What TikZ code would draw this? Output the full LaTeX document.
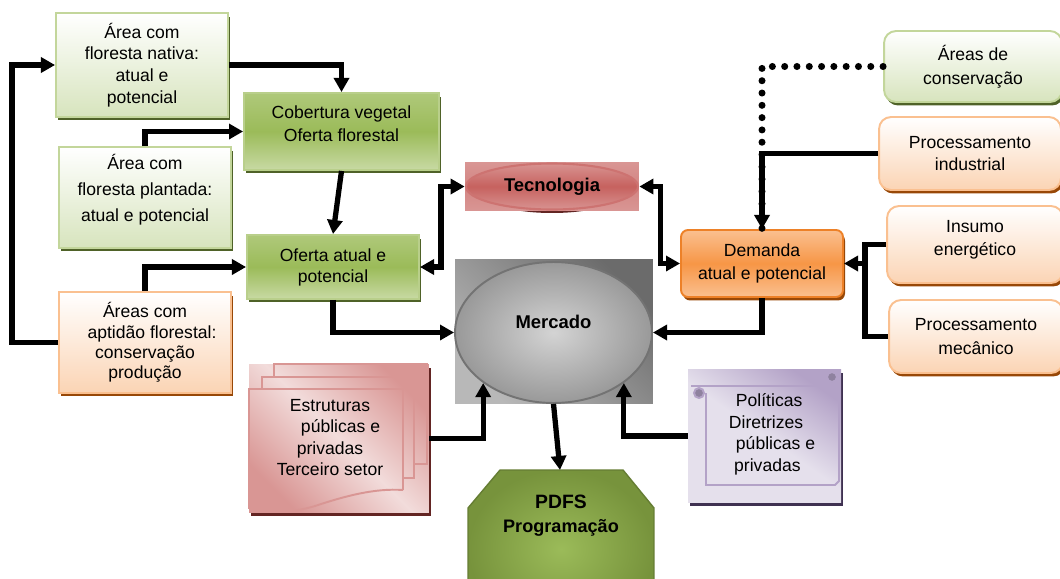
\documentclass[tikz,border=0pt]{standalone}
\usepackage{fontspec}
\setmainfont{Liberation Sans}
\usepackage{xcolor}
\usetikzlibrary{arrows.meta, shapes.geometric, shadows, calc}

\definecolor{verdeClaro}{HTML}{D7E4BD}
\definecolor{verdeBorda}{HTML}{C3D69B}
\definecolor{verdeMedio}{HTML}{9BBB59}
\definecolor{verdeEscuro}{HTML}{4F6228}
\definecolor{oliva}{HTML}{77933C}
\definecolor{laranjaClaro}{HTML}{FBD4B4}
\definecolor{laranjaBorda}{HTML}{FAC090}
\definecolor{laranja}{HTML}{F79646}
\definecolor{laranjaEscuro}{HTML}{E46C0A}
\definecolor{marrom}{HTML}{984807}
\definecolor{rosaClaro}{HTML}{F2DCDB}
\definecolor{rosaMedio}{HTML}{D99694}
\definecolor{vermelho}{HTML}{C0504D}
\definecolor{vermelhoEscuro}{HTML}{632523}
\definecolor{lilasClaro}{HTML}{E5E0EC}
\definecolor{lilasMedio}{HTML}{B3A2C7}
\definecolor{lilasEscuro}{HTML}{3F3151}

\tikzset{
    caixa/.style={draw, line width=1.1pt, align=center, inner sep=2pt,
        font={\fontsize{10}{12.3}\selectfont}},
    sombra/.style={drop shadow={shadow xshift=0.04cm, shadow yshift=-0.07cm, opacity=1, fill=#1}},
    verdeclaro/.style={caixa, draw=verdeBorda, top color=white, bottom color=verdeClaro, sombra=verdeEscuro},
    verde/.style={caixa, draw=verdeMedio!70!white, top color=verdeMedio!80!white, bottom color=verdeMedio!55!white,
        middle color=verdeMedio, sombra=verdeEscuro},
    laranjaclaro/.style={caixa, draw=laranjaBorda, top color=white, bottom color=laranjaClaro, sombra=marrom},
    laranjaforte/.style={caixa, draw=laranjaEscuro!50!laranja, top color=laranjaBorda, bottom color=laranjaBorda,
        middle color=laranja, rounded corners=0.14cm, sombra=marrom},
    redonda/.style={rounded corners=0.24cm},
    negrito/.style={font={\bfseries\fontsize{10.5}{12}\selectfont}},
    ligacao/.style={line width=3pt, -{Triangle[length=8pt, width=8.5pt]}},
    dupla/.style={line width=3pt, {Triangle[length=8pt, width=8.5pt]}-{Triangle[length=8pt, width=8.5pt]}},
    linha/.style={line width=3pt},
    pontos/.style={line width=4pt, line cap=round, dash pattern=on 0pt off 7pt},
    pagina/.style={draw=rosaMedio, line width=1.1pt},
    rolo/.style={draw=lilasMedio, line width=1.1pt}
}

\begin{document}
\begin{tikzpicture}[x=0.02cm, y=-0.02cm]
    \useasboundingbox (0,0) rectangle (1060,578);
    \clip (0,0) rectangle (1060,578);

    % lado esquerdo: areas e oferta
    \node[verdeclaro, minimum width=3.44cm, minimum height=2.08cm] (nativa) at (142,65)
        {Área com\\floresta nativa:\\atual e\\potencial};
    \node[verde, minimum width=3.9cm, minimum height=1.54cm, text depth=9pt,
        font={\fontsize{10}{13.6}\selectfont}] (cobertura) at (341.5,131.5)
        {Cobertura vegetal\\Oferta florestal};
    \node[verdeclaro, minimum width=3.44cm, minimum height=2.02cm, text depth=11pt,
        font={\fontsize{10}{15}\selectfont}] (plantada) at (145,197.5)
        {Área com\\floresta plantada:\\atual e potencial};
    \node[verde, minimum width=3.44cm, minimum height=1.28cm,
        font={\fontsize{10}{12}\selectfont}] (oferta) at (333,267)
        {Oferta atual e\\potencial};
    \node[laranjaclaro, minimum width=3.44cm, minimum height=2.02cm,
        font={\fontsize{10}{11.5}\selectfont}] (aptidao) at (145,342.5)
        {Áreas com\\\hspace{8pt}aptidão florestal:\\conservação\\produção};

    % lado direito: demanda
    \node[verdeclaro, redonda, minimum width=3.56cm, minimum height=1.42cm,
        font={\fontsize{10}{13.6}\selectfont}] (conservacao) at (973,66.5)
        {Áreas de\\conservação};
    \node[laranjaclaro, redonda, minimum width=3.64cm, minimum height=1.46cm,
        font={\fontsize{10}{13}\selectfont}] (industrial) at (970,153.5)
        {Processamento\\industrial};
    \node[laranjaclaro, redonda, minimum width=3.52cm, minimum height=1.54cm, text depth=7.5pt,
        font={\fontsize{10}{13}\selectfont}] (insumo) at (975,244.5)
        {Insumo\\energético};
    \node[laranjaclaro, redonda, minimum width=3.48cm, minimum height=1.46cm,
        font={\fontsize{10}{13.6}\selectfont}] (mecanico) at (976,336.5)
        {Processamento\\mecânico};
    \node[laranjaforte, minimum width=3.24cm, minimum height=1.34cm,
        font={\fontsize{10}{13}\selectfont}] (demanda) at (762,263.5)
        {Demanda\\atual e potencial};

    % Tecnologia
    \fill[vermelhoEscuro] (552,190) ellipse [x radius=1.5cm, y radius=0.46cm];
    \node[negrito, minimum width=3.48cm, minimum height=0.98cm,
        top color=rosaMedio, bottom color=rosaMedio, middle color=rosaMedio!75!vermelho,
        path picture={\path[draw=vermelho!80!white, line width=1.2pt, top color=rosaMedio,
            bottom color=rosaMedio, middle color=vermelho!90!white]
            (path picture bounding box.center) ellipse [x radius=1.72cm, y radius=0.46cm];}]
        (tecnologia) at (552,186.5) {Tecnologia};

    % Mercado
    \node[minimum width=3.96cm, minimum height=2.9cm, top color=black!58, bottom color=black!28,
        shading angle=-45] (quadro) at (554,331.5) {};
    \node[ellipse, draw=black!55, line width=1.1pt, inner color=black!17, outer color=black!40,
        minimum width=3.94cm, minimum height=2.82cm, text depth=12pt, negrito] (mercado) at (553.5,332.5)
        {Mercado};

    % Estruturas (varios documentos)
    \node[minimum width=3.6cm, minimum height=2.98cm, top color=rosaMedio, bottom color=rosaMedio,
        middle color=rosaClaro, shading angle=-45, sombra=vermelhoEscuro] (estruturas) at (339,438.5) {};
    \draw[pagina] (274,377) -- (274,364) -- (427,364) -- (427,464) -- (414,464);
    \draw[pagina] (262,389) -- (262,377) -- (414,377) -- (414,478) -- (403,478);
    \draw[pagina] (403,490) -- (403,389) -- (249,389) -- (249,508)
        .. controls (275,514) and (295,512) .. (315,506)
        .. controls (345,496) and (375,488) .. (403,490);
    \node[align=center, font={\fontsize{10}{12.3}\selectfont}] (estrtexto) at (330,437.5)
        {Estruturas\\\hspace{12pt}públicas e\\privadas\\Terceiro setor};

    % Politicas (rolo)
    \node[minimum width=3.06cm, minimum height=2.68cm, top color=lilasMedio, bottom color=lilasClaro,
        middle color=lilasClaro, shading angle=-35, sombra=lilasEscuro] (politicas) at (764.5,436) {};
    \draw[rolo] (691,386) -- (836,386);
    \draw[rolo] (839,380) -- (839,481) -- (835,485) -- (706,485) -- (706,393);
    \draw[rolo, fill=lilasMedio!80!black] (832,377) circle [radius=0.1cm];
    \draw[rolo, fill=lilasMedio!80!black] (699,393) circle [radius=0.1cm];
    \node[align=left, font={\fontsize{10}{12.3}\selectfont}] (poltexto) at (772,434.5)
        {\hspace{4pt}Políticas\\Diretrizes\\\hspace{4pt}públicas e\\\hspace{3pt}privadas};

    % PDFS
    \path[draw=oliva!85!black, line width=0.8pt, inner color=verdeMedio, outer color=oliva]
        (500,470) -- (623,470) -- (654,508) -- (654,590) -- (623,628) -- (500,628)
        -- (468,590) -- (468,508) -- cycle;
    \coordinate (pdfstopo) at (560,470);
    \node[align=center, font={\bfseries\fontsize{11}{14}\selectfont}] (pdfs) at (561,515.5)
        {PDFS\\{\fontsize{10.3}{14}\selectfont Programação}};

    % ligacoes
    \draw[ligacao] (aptidao.west) -- ++(-46,0) |- (nativa.west);
    \draw[ligacao] (nativa.east) -| (cobertura.north);
    \draw[ligacao] (plantada.north) |- (cobertura.west);
    \draw[ligacao] (cobertura.south) -- (oferta.north);
    \draw[ligacao] (aptidao.north) |- (oferta.west);
    \draw[ligacao] (oferta.south) |- (mercado.west);
    \draw[dupla] (oferta.east) -- ++(21,0) |- (tecnologia.west);
    \draw[dupla] (tecnologia.east) -- ++(21,0) |- (demanda.west);
    \draw[pontos] (conservacao.west) -| (demanda.north);
    \draw[ligacao] (industrial.west) -| (demanda.north);
    \coordinate (juncao) at (865,263.5);
    \draw[ligacao] (insumo.west) -| (juncao) -- (demanda.east);
    \draw[linha] (mecanico.west) -| (juncao);
    \draw[ligacao] (demanda.south) |- (mercado.east);
    \draw[ligacao] (estruturas.east) -| (mercado.south west);
    \draw[ligacao] (politicas.west) -| (mercado.south east);
    \draw[ligacao] (mercado.south) -- (pdfstopo);
\end{tikzpicture}
\end{document}
